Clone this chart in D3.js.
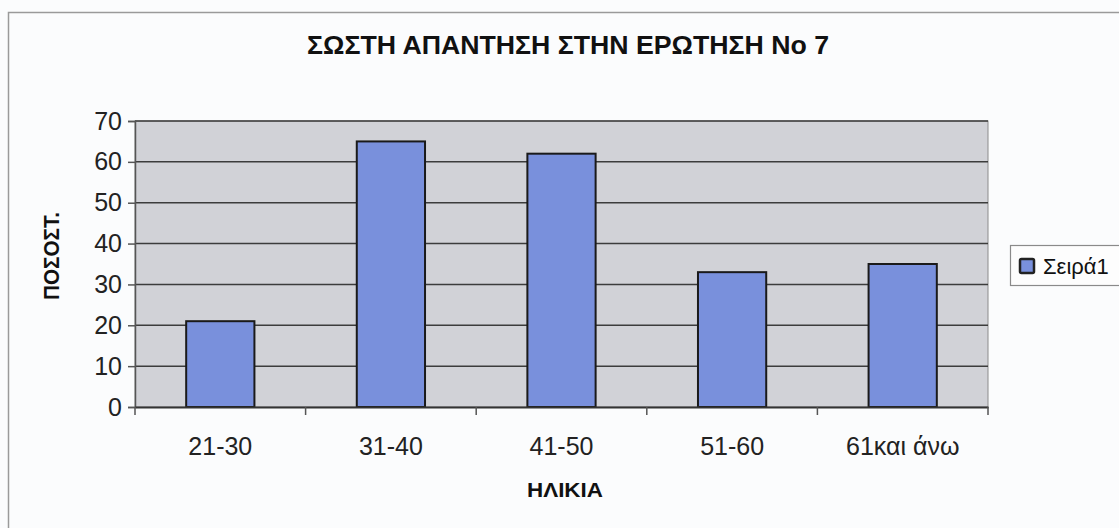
<!DOCTYPE html>
<html>
<head>
<meta charset="utf-8">
<script src="https://cdn.jsdelivr.net/npm/d3@7"></script>
<style>
  html, body { margin: 0; padding: 0; background: #fbfcfd; }
  svg { display: block; font-family: "Liberation Sans", Arial, sans-serif; }
</style>
</head>
<body>
<svg id="chart" width="1119" height="528"></svg>
<script>
// Age groups and share of correct answers (%)
const categories = ["21-30", "31-40", "41-50", "51-60", "61και άνω"];
const values = [21, 65, 62, 33, 35];
const yTicks = [0, 10, 20, 30, 40, 50, 60, 70];
const seriesName = "Σειρά1";
const titleText = "ΣΩΣΤΗ ΑΠΑΝΤΗΣΗ ΣΤΗΝ ΕΡΩΤΗΣΗ Νο 7";
const xTitle = "ΗΛΙΚΙΑ";
const yTitle = "ΠΟΣΟΣΤ.";

const svg = d3.select("#chart");
const plot = { left: 135, right: 988, top: 121, bottom: 407 };

// outer frame of the chart object
svg.append("path")
  .attr("d", "M8.5,528 V12.5 H1119")
  .attr("fill", "none").attr("stroke", "#9a9a9a").attr("stroke-width", 1.5);

const x = d3.scaleBand().domain(categories)
  .range([plot.left, plot.right]).paddingInner(0.6).paddingOuter(0.3);
const y = d3.scaleLinear().domain([0, 70]).range([plot.bottom, plot.top]);

// grey plot area
svg.append("rect")
  .attr("x", plot.left).attr("y", plot.top)
  .attr("width", plot.right - plot.left).attr("height", plot.bottom - plot.top)
  .attr("fill", "#d1d2d7").attr("stroke", "#8c8c8c").attr("stroke-width", 1);

// horizontal gridlines
svg.append("g").selectAll("line").data(yTicks.filter(d => d > 0)).join("line")
  .attr("x1", plot.left).attr("x2", plot.right)
  .attr("y1", d => y(d)).attr("y2", d => y(d))
  .attr("stroke", "#3c3c3c").attr("stroke-width", 1.5);

// bars
svg.append("g").selectAll("rect").data(values).join("rect")
  .attr("x", (d, i) => x(categories[i]))
  .attr("y", d => y(d))
  .attr("width", x.bandwidth())
  .attr("height", d => y(0) - y(d))
  .attr("fill", "#7990dc")
  .attr("stroke", "#1a1a1a").attr("stroke-width", 2);

// y axis
const yAxis = d3.axisLeft(y).tickValues(yTicks).tickSize(7).tickPadding(6);
const gy = svg.append("g").attr("transform", `translate(${plot.left},0)`).call(yAxis);
gy.select(".domain").attr("stroke", "#555").attr("stroke-width", 1.5);
gy.selectAll(".tick line").attr("stroke", "#555").attr("stroke-width", 1.5);
gy.selectAll("text").attr("font-size", 25).attr("fill", "#222")
  .attr("font-family", "Liberation Sans, Arial, sans-serif");

// x axis with ticks at category boundaries
const xAxis = d3.axisBottom(x).tickSize(0).tickPadding(30);
const gx = svg.append("g").attr("transform", `translate(0,${plot.bottom})`).call(xAxis);
gx.select(".domain").attr("stroke", "#333").attr("stroke-width", 2);
gx.selectAll("text").attr("font-size", 25).attr("fill", "#222")
  .attr("font-family", "Liberation Sans, Arial, sans-serif");
const bounds = d3.range(categories.length + 1).map(i => plot.left + i * (plot.right - plot.left) / categories.length);
svg.append("g").selectAll("line").data(bounds).join("line")
  .attr("x1", d => d).attr("x2", d => d)
  .attr("y1", plot.bottom).attr("y2", plot.bottom + 8)
  .attr("stroke", "#555").attr("stroke-width", 1.5);

// titles
svg.append("text").attr("x", 568).attr("y", 54).attr("text-anchor", "middle")
  .attr("font-size", 25).attr("font-weight", "bold").attr("fill", "#111")
  .attr("textLength", 522).attr("lengthAdjust", "spacingAndGlyphs")
  .text(titleText);

svg.append("text").attr("x", 565).attr("y", 497).attr("text-anchor", "middle")
  .attr("font-size", 21).attr("font-weight", "bold").attr("fill", "#111")
  .attr("textLength", 76).attr("lengthAdjust", "spacingAndGlyphs")
  .text(xTitle);

svg.append("text")
  .attr("transform", "translate(59,256) rotate(-90)")
  .attr("text-anchor", "middle")
  .attr("font-size", 22).attr("font-weight", "bold").attr("fill", "#111")
  .attr("textLength", 88).attr("lengthAdjust", "spacingAndGlyphs")
  .text(yTitle);

// legend
const lg = svg.append("g");
lg.append("rect").attr("x", 1010.5).attr("y", 245.5).attr("width", 112).attr("height", 40)
  .attr("fill", "#fdfdfd").attr("stroke", "#8a8a8a").attr("stroke-width", 1.2);
lg.append("rect").attr("x", 1020).attr("y", 259).attr("width", 14).attr("height", 14)
  .attr("fill", "#7990dc").attr("stroke", "#222").attr("stroke-width", 2.5).attr("rx", 1.5);
lg.append("text").attr("x", 1043).attr("y", 274)
  .attr("font-size", 22).attr("fill", "#111")
  .text(seriesName);
</script>
</body>
</html>
